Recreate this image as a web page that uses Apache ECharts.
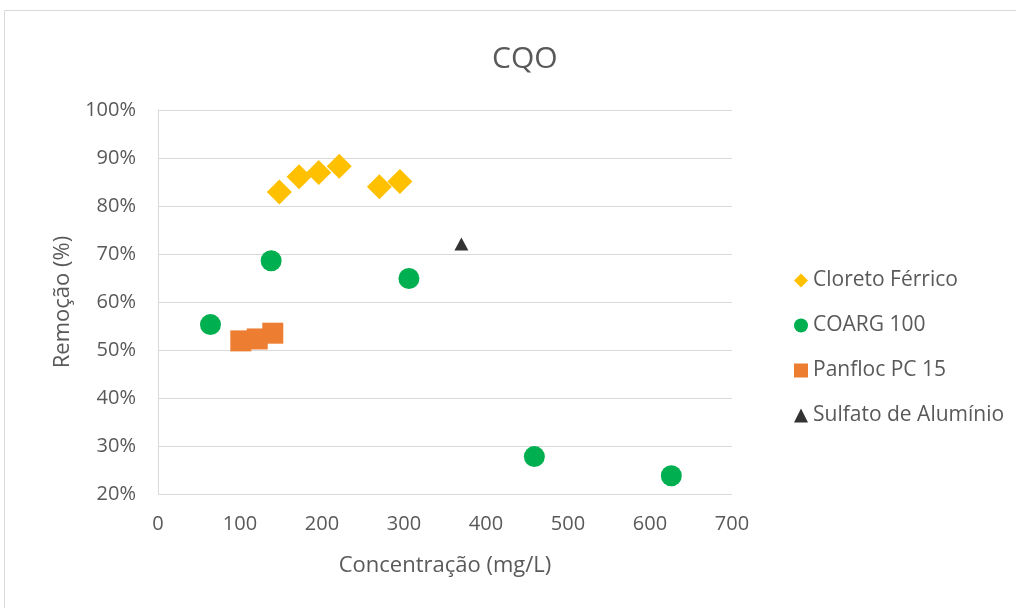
<!DOCTYPE html>
<html>
<head>
<meta charset="utf-8">
<script src="https://cdn.jsdelivr.net/npm/echarts@6/dist/echarts.min.js"></script>
<style>
  html, body { margin: 0; padding: 0; background: #fff; }
  #chart { width: 1016px; height: 608px; }
</style>
</head>
<body>
<div id="chart"></div>
<script>
// Dose (mg/L) vs COD removal (%) for each coagulant
const cloretoFerrico = [[148, 82.9], [172, 86.1], [196, 87.0], [221, 88.3], [270, 84.0], [295, 85.1]];
const coarg100 = [[64, 55.3], [138, 68.6], [306, 64.9], [459, 27.8], [626, 23.8]];
const panfloc = [[101, 51.9], [121, 52.3], [140, 53.5]];
const sulfato = [[370, 72.1]];

const xTicks = { min: 0, max: 700, step: 100 };
const yTicks = { min: 20, max: 100, step: 10 };

const font = '"Open Sans", "Noto Sans", sans-serif';
const textColor = '#595959';

const chart = echarts.init(document.getElementById('chart'));
chart.setOption({
  animation: false,
  backgroundColor: '#fff',
  graphic: [{
    type: 'rect',
    shape: { x: 4.5, y: 10.5, width: 1030, height: 620 },
    style: { fill: 'none', stroke: '#d9d9d9', lineWidth: 1 },
    silent: true
  }],
  title: {
    text: 'CQO',
    left: 487,
    top: 39,
    textStyle: { fontFamily: font, fontSize: 30, fontWeight: 'normal', color: textColor }
  },
  grid: { left: 158, right: 284, top: 110, bottom: 114 },
  legend: {
    orient: 'vertical',
    left: 789,
    top: 265,
    itemGap: 24,
    itemWidth: 14,
    itemHeight: 14,
    textStyle: { fontFamily: font, fontSize: 21, lineHeight: 21, color: textColor },
    data: ['Cloreto Férrico', 'COARG 100', 'Panfloc PC 15', 'Sulfato de Alumínio']
  },
  xAxis: {
    type: 'value',
    min: xTicks.min, max: xTicks.max, interval: xTicks.step,
    name: 'Concentração (mg/L)',
    nameLocation: 'middle',
    nameGap: 61,
    nameTextStyle: { fontFamily: font, fontSize: 22, color: textColor },
    axisLine: { show: false },
    axisTick: { show: false },
    axisLabel: { fontFamily: font, fontSize: 20, color: textColor, margin: 20 },
    splitLine: { show: false }
  },
  yAxis: {
    type: 'value',
    min: yTicks.min, max: yTicks.max, interval: yTicks.step,
    name: 'Remoção (%)',
    nameLocation: 'middle',
    nameGap: 84,
    nameTextStyle: { fontFamily: font, fontSize: 22, color: textColor },
    axisLine: { show: true, lineStyle: { color: '#d9d9d9', width: 1 } },
    axisTick: { show: false },
    axisLabel: { fontFamily: font, fontSize: 20, color: textColor, margin: 22, formatter: '{value}%' },
    splitLine: { show: true, lineStyle: { color: '#d9d9d9', width: 1 } }
  },
  series: [
    {
      name: 'Cloreto Férrico', type: 'scatter', data: cloretoFerrico,
      symbol: 'diamond', symbolSize: [25, 25],
      itemStyle: { color: '#ffc000', opacity: 1 }
    },
    {
      name: 'COARG 100', type: 'scatter', data: coarg100,
      symbol: 'circle', symbolSize: 21,
      itemStyle: { color: '#00b050', opacity: 1 }
    },
    {
      name: 'Panfloc PC 15', type: 'scatter', data: panfloc,
      symbol: 'rect', symbolSize: 21,
      itemStyle: { color: '#ed7d31', opacity: 1 }
    },
    {
      name: 'Sulfato de Alumínio', type: 'scatter', data: sulfato,
      symbol: 'triangle', symbolSize: [14, 13],
      itemStyle: { color: '#333333', opacity: 1 }
    }
  ]
});
</script>
</body>
</html>
